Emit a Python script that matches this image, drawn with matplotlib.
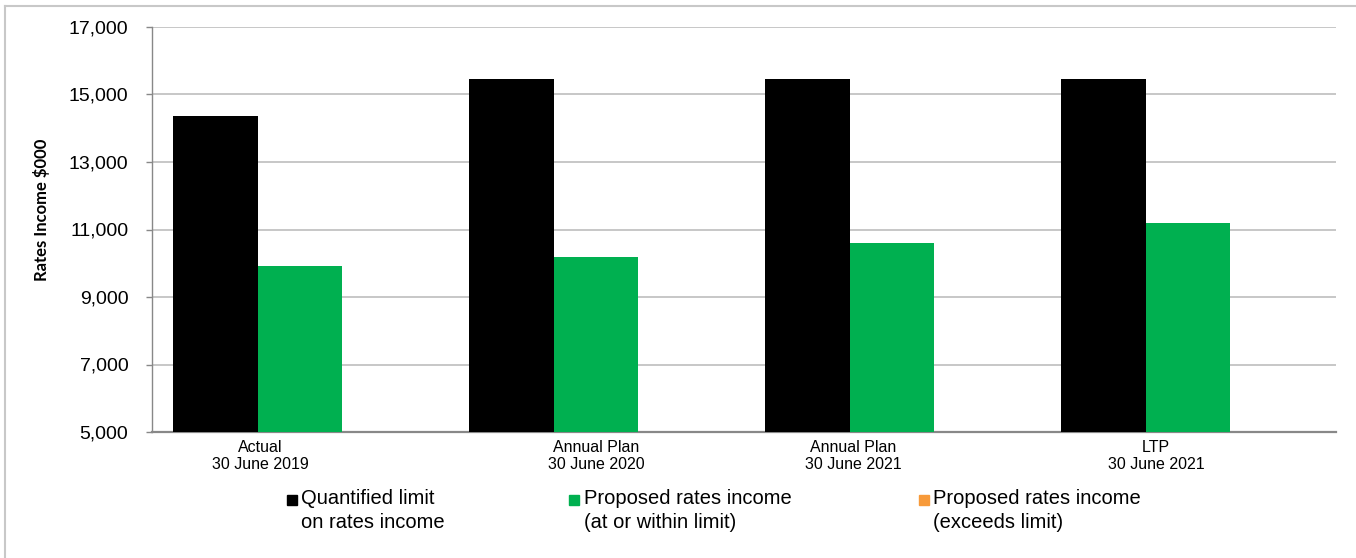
import matplotlib
matplotlib.use("Agg")
import matplotlib.pyplot as plt
from matplotlib.patches import Rectangle
from matplotlib.lines import Line2D
import numpy as np

categories = ["Actual\n30 June 2019", "Annual Plan\n30 June 2020",
              "Annual Plan\n30 June 2021", "LTP\n30 June 2021"]
series_names = ["Quantified limit\non rates income",
                "Proposed rates income\n(at or within limit)",
                "Proposed rates income\n(exceeds limit)"]
quantified_limit = [14350, 15450, 15450, 15450]
proposed_within = [9910, 10190, 10605, 11185]
proposed_exceeds = [0, 0, 0, 0]
colors = ["#000000", "#00B050", "#F79A3A"]
yticks = [5000, 7000, 9000, 11000, 13000, 15000, 17000]

W, H = 1356, 558
fig = plt.figure(figsize=(W / 100, H / 100), dpi=100)
plt.rcParams['font.family'] = ['Liberation Sans', 'DejaVu Sans']

L, R, T, B = 152, 1336, 27, 432
ax = fig.add_axes([L / W, 1 - B / H, (R - L) / W, (B - T) / H])

x = np.arange(len(categories))
bw = 0.285
for i, (vals, c) in enumerate(zip([quantified_limit, proposed_within, proposed_exceeds], colors)):
    ax.bar(x + (i - 1) * bw, vals, width=bw, color=c, zorder=3, linewidth=0)

ax.set_xlim(-0.5, len(categories) - 0.5)
ax.set_ylim(5000, 17000)
ax.set_yticks(yticks)
ax.set_yticklabels([f"{v:,}" for v in yticks], fontsize=14, color="#000000")
ax.tick_params(axis='y', length=4, width=1, color="#888888", pad=13)
ax.set_xticks([])
ax.yaxis.grid(True, color="#BDBDBD", linewidth=1.2, zorder=0)
for s in ["top", "right"]:
    ax.spines[s].set_visible(False)
ax.spines["left"].set_color("#888888")
ax.spines["bottom"].set_color("#888888")
ax.spines["bottom"].set_linewidth(1.6)
ax.spines["left"].set_linewidth(1.0)

# category labels (offsets as in original)
label_offsets = [-0.135, 0.0, -0.132, -0.108]
for xi, lab, off in zip(x, categories, label_offsets):
    ax.text(xi + off, 4750, lab, ha='center', va='top', fontsize=11.5,
            linespacing=1.1, transform=ax.transData)

fig.text(41 / W, 1 - 210 / H, "Rates Income $000", rotation=90, ha='center', va='center',
         fontsize=12, fontweight='bold', family=['Lato', 'DejaVu Sans'])

# legend (manual)
marker_x = [287, 569, 919]
text_x = [301, 584, 933]
for mx, tx, name, c in zip(marker_x, text_x, series_names, colors):
    fig.patches.append(Rectangle((mx / W, 1 - 505 / H), 10 / W, 10 / H,
                                 transform=fig.transFigure, color=c))
    l1, l2 = name.split("\n")
    fig.text(tx / W, 1 - 499 / H, l1, ha='left', va='center', fontsize=14.5)
    fig.text(tx / W, 1 - 523 / H, l2, ha='left', va='center', fontsize=14.5)

# outer frame (cut off right/bottom)
fig.add_artist(Line2D([4.5 / W, 1], [1 - 5.5 / H, 1 - 5.5 / H], transform=fig.transFigure,
                      color="#C8C8C8", linewidth=1.5))
fig.add_artist(Line2D([4.5 / W, 4.5 / W], [0, 1 - 5.5 / H], transform=fig.transFigure,
                      color="#C8C8C8", linewidth=1.5))

fig.savefig("out.png", dpi=100)
